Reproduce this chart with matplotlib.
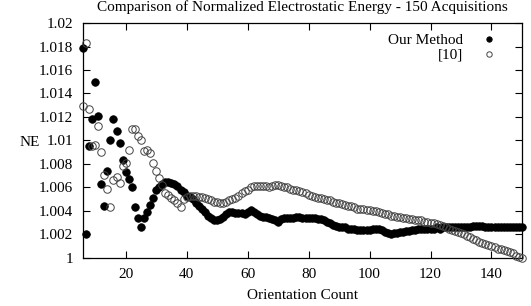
import numpy as np
import matplotlib
matplotlib.use("Agg")
import matplotlib.pyplot as plt
from matplotlib.ticker import FuncFormatter, MultipleLocator

plt.rcParams['font.family'] = ['Liberation Serif', 'DejaVu Serif']

# orientation counts 6..150
counts = list(range(6, 151))

# NE values, "Our Method" (filled dots)
ours = [
    1.0179, 1.0020, 1.0095, 1.0118, 1.0150, 1.0121, 1.0063, 1.0044, 1.0074, 1.0100,  # 6-15
    1.0118, 1.0108, 1.0098, 1.0083, 1.0073, 1.0067, 1.0060, 1.0043, 1.0034, 1.0026,  # 16-25
    1.0034, 1.0039, 1.0045, 1.0051, 1.0058, 1.0060, 1.0063, 1.0065, 1.0065, 1.0064,  # 26-35
    1.0063, 1.0061, 1.0058, 1.0056, 1.0053, 1.0052, 1.0050, 1.0047, 1.0044, 1.0042,  # 36-45
    1.0039, 1.0036, 1.0034, 1.0032, 1.0032, 1.0033, 1.0035, 1.0037, 1.0039, 1.0039,  # 46-55
    1.0038, 1.0038, 1.0038, 1.0037, 1.0039, 1.0041, 1.0039, 1.0037, 1.0036, 1.0035,  # 56-65
    1.0035, 1.0034, 1.0033, 1.0032, 1.0031, 1.0033, 1.0034, 1.0034, 1.0034, 1.0034,  # 66-75
    1.0035, 1.0035, 1.0034, 1.0034, 1.0034, 1.0034, 1.0034, 1.0033, 1.0033, 1.0032,  # 76-85
    1.0031, 1.0030, 1.0028, 1.0027, 1.0026, 1.0026, 1.0026, 1.0025, 1.0025, 1.0025,  # 86-95
    1.0024, 1.0024, 1.0024, 1.0024, 1.0024, 1.0025, 1.0025, 1.0025, 1.0024, 1.0022,  # 96-105
    1.0021, 1.0020, 1.0021, 1.0021, 1.0022, 1.0022, 1.0023, 1.0023, 1.0024, 1.0024,  # 106-115
    1.0025, 1.0025, 1.0025, 1.0025, 1.0025, 1.0025, 1.0026, 1.0025, 1.0026, 1.0026,  # 116-125
    1.0026, 1.0026, 1.0026, 1.0026, 1.0026, 1.0026, 1.0026, 1.0026, 1.0027, 1.0027,  # 126-135
    1.0027, 1.0027, 1.0026, 1.0026, 1.0026, 1.0026, 1.0026, 1.0026, 1.0026, 1.0026,  # 136-145
    1.0026, 1.0026, 1.0026, 1.0026, 1.0026,                                          # 146-150
]

# NE values, reference [10] (hollow circles)
ref10 = [
    1.0129, 1.0183, 1.0127, 1.0095, 1.0096, 1.0112, 1.0090, 1.0071, 1.0059, 1.0043,  # 6-15
    1.0066, 1.0069, 1.0064, 1.0078, 1.0081, 1.0092, 1.0110, 1.0110, 1.0104, 1.0100,  # 16-25
    1.0091, 1.0092, 1.0089, 1.0081, 1.0074, 1.0068, 1.0062, 1.0055, 1.0054, 1.0051,  # 26-35
    1.0049, 1.0047, 1.0043, 1.0050, 1.0052, 1.0053, 1.0053, 1.0053, 1.0052, 1.0052,  # 36-45
    1.0051, 1.0050, 1.0049, 1.0048, 1.0048, 1.0047, 1.0047, 1.0048, 1.0049, 1.0050,  # 46-55
    1.0051, 1.0053, 1.0055, 1.0057, 1.0058, 1.0060, 1.0061, 1.0061, 1.0061, 1.0061,  # 56-65
    1.0061, 1.0060, 1.0061, 1.0062, 1.0062, 1.0061, 1.0060, 1.0060, 1.0059, 1.0058,  # 66-75
    1.0058, 1.0057, 1.0056, 1.0055, 1.0054, 1.0053, 1.0052, 1.0051, 1.0051, 1.0050,  # 76-85
    1.0049, 1.0049, 1.0048, 1.0047, 1.0047, 1.0046, 1.0045, 1.0044, 1.0044, 1.0043,  # 86-95
    1.0042, 1.0042, 1.0042, 1.0041, 1.0041, 1.0040, 1.0040, 1.0039, 1.0038, 1.0037,  # 96-105
    1.0037, 1.0036, 1.0036, 1.0035, 1.0035, 1.0034, 1.0034, 1.0033, 1.0033, 1.0032,  # 106-115
    1.0032, 1.0032, 1.0031, 1.0031, 1.0030, 1.0030, 1.0029, 1.0028, 1.0027, 1.0026,  # 116-125
    1.0025, 1.0024, 1.0023, 1.0022, 1.0021, 1.0020, 1.0019, 1.0018, 1.0016, 1.0015,  # 126-135
    1.0014, 1.0013, 1.0012, 1.0011, 1.0010, 1.0009, 1.0008, 1.0008, 1.0007, 1.0006,  # 136-145
    1.0005, 1.0004, 1.0002, 1.0001, 1.0000,                                          # 146-150
]

title = "Comparison of Normalized Electrostatic Energy - 150 Acquisitions"

fig = plt.figure(figsize=(5.31, 3.06), dpi=100)
ax = fig.add_axes([0.1563, 0.157, 0.8267, 0.7678])

ax.plot(counts, ours, ls='none', marker='o', ms=5.4, mfc='black', mec='black',
        mew=0.6, label='Our Method', clip_on=False, zorder=3)
ax.plot(counts, ref10, ls='none', marker='o', ms=5.4, mfc='none', mec='#444444',
        mew=0.7, label='[10]', clip_on=False, zorder=4)

ax.set_xlim(6, 150)
ax.set_ylim(1.0, 1.02)
ax.xaxis.set_major_locator(MultipleLocator(20))
ax.yaxis.set_major_locator(MultipleLocator(0.002))
ax.yaxis.set_major_formatter(FuncFormatter(lambda v, p: '%g' % round(v, 4)))
ax.tick_params(direction='in', length=5, width=0.8, top=True, right=True,
               labelsize=11, pad=7)
for s in ax.spines.values():
    s.set_linewidth(0.9)

ax.set_xlabel('Orientation Count', fontsize=11, labelpad=6)
ax.set_ylabel('NE', fontsize=11, rotation=0, ha='center', va='center')
ax.yaxis.set_label_coords(-0.121, 0.49)
# the source crops the title at the top edge; keep it just inside here
ax.set_title(title, fontsize=11, pad=8.5)

leg = ax.legend(loc='upper right', frameon=False, markerfirst=False, fontsize=11,
                handletextpad=1.2, labelspacing=0.05, handlelength=1.0,
                borderaxespad=0.3, bbox_to_anchor=(0.966, 1.0), markerscale=0.72)
for t in leg.get_texts():
    t.set_ha('right')

fig.savefig('out.png', dpi=100)
